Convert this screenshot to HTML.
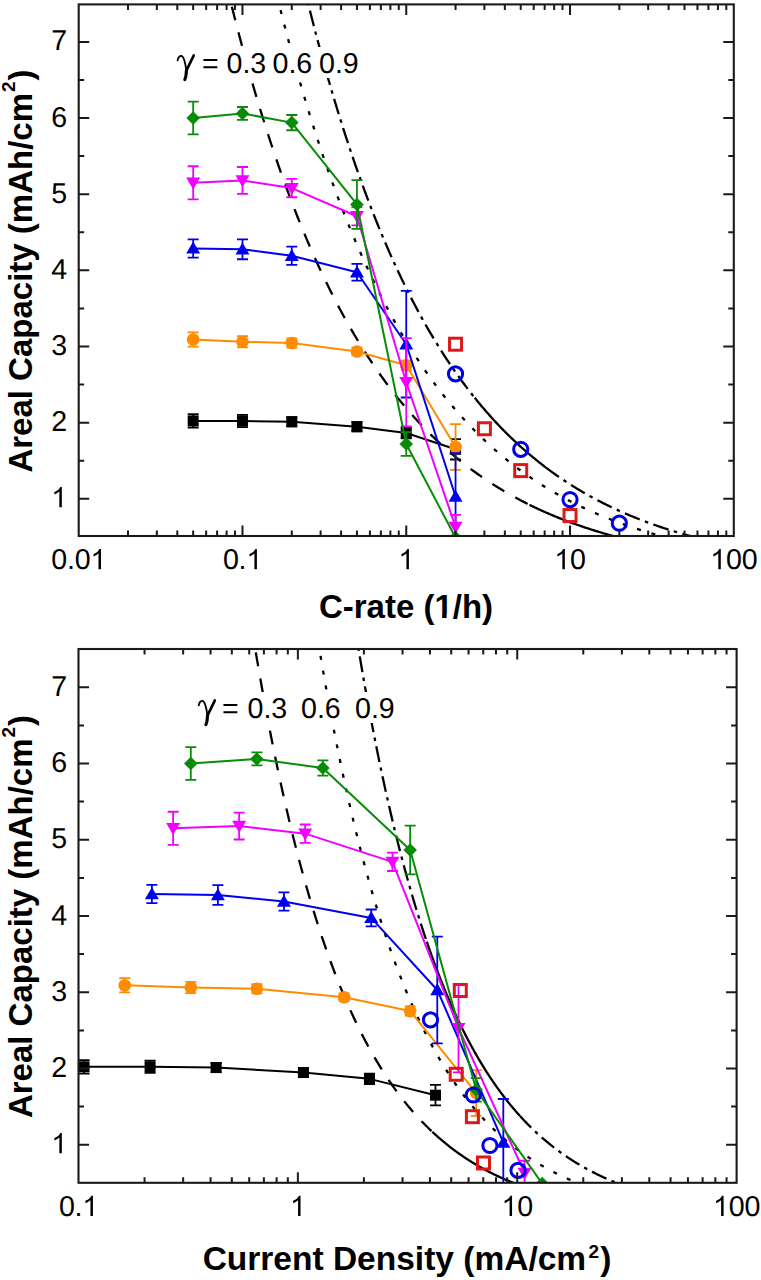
<!DOCTYPE html>
<html><head><meta charset="utf-8"><style>
html,body{margin:0;padding:0;background:#fff;width:761px;height:1280px;overflow:hidden}
svg{display:block}
.tk{font-family:"Liberation Sans",sans-serif;font-size:28.6px;fill:#000;text-rendering:geometricPrecision}
.gm{font-family:"Liberation Serif",serif;font-size:30px;fill:#000}
.tt{font-family:"Liberation Sans",sans-serif;font-size:33px;font-weight:bold;fill:#000}
.sup{font-size:19px}
</style></head><body>
<svg width="761" height="1280" viewBox="0 0 761 1280">
<rect width="761" height="1280" fill="#fff"/>
<defs><clipPath id="c1"><rect x="78.7" y="4.4" width="655.1" height="531.6"/></clipPath>
<clipPath id="c2"><rect x="78.5" y="649" width="658.1" height="533.8"/></clipPath></defs>
<g clip-path="url(#c1)" fill="none" stroke="#000" stroke-width="2.3">
<path d="M225.56 -19.02 L226.91 -13.38 L228.27 -7.79 L229.63 -2.26 L230.99 3.22 L232.34 8.65 L233.7 14.02 L235.06 19.35 L236.41 24.62 L237.77 29.85 L239.13 35.03 L240.48 40.15 L241.84 45.23 L243.2 50.26 L244.56 55.24 L245.91 60.17 L247.27 65.06 L248.63 69.9 L249.98 74.7 L251.34 79.45 L252.7 84.15 L254.06 88.81 L255.41 93.43 L256.77 98 L258.13 102.53 L259.48 107.01 L260.84 111.46 L262.2 115.86 L263.56 120.22 L264.91 124.53 L266.27 128.81 L267.63 133.05 L268.98 137.24 L270.34 141.4 L271.7 145.51 L273.05 149.59 L274.41 153.63 L275.77 157.63 L277.13 161.59 L278.48 165.52 L279.84 169.4 L281.2 173.25 L282.55 177.07 L283.91 180.85 L285.27 184.59 L286.63 188.29 L287.98 191.97 L289.34 195.6 L290.7 199.2 L292.05 202.77 L293.41 206.3 L294.77 209.8 L296.12 213.27 L297.48 216.71 L298.84 220.11 L300.2 223.48 L301.55 226.81 L302.91 230.12 L304.27 233.39 L305.62 236.64 L306.98 239.85 L308.34 243.03 L309.7 246.18 L311.05 249.3 L312.41 252.39 L313.77 255.46 L315.12 258.49 L316.48 261.49 L317.84 264.47 L319.2 267.42 L320.55 270.34 L321.91 273.23 L323.27 276.1 L324.62 278.93 L325.98 281.74 L327.34 284.53 L328.69 287.28 L330.05 290.02 L331.41 292.72 L332.77 295.4 L334.12 298.06 L335.48 300.68 L336.84 303.29 L338.19 305.87 L339.55 308.42 L340.91 310.95 L342.27 313.46 L343.62 315.94 L344.98 318.4 L346.34 320.84 L347.69 323.25 L349.05 325.64 L350.41 328.01 L351.77 330.35 L353.12 332.67 L354.48 334.97 L355.84 337.25 L357.19 339.51 L358.55 341.74 L359.91 343.96 L361.26 346.15 L362.62 348.32 L363.98 350.48 L365.34 352.61 L366.69 354.72 L368.05 356.81 L369.41 358.88 L370.76 360.93 L372.12 362.96 L373.48 364.98 L374.84 366.97 L376.19 368.94 L377.55 370.9 L378.91 372.84 L380.26 374.76 L381.62 376.66 L382.98 378.54 L384.34 380.41 L385.69 382.25 L387.05 384.08 L388.41 385.89 L389.76 387.69 L391.12 389.47 L392.48 391.23 L393.83 392.97 L395.19 394.7 L396.55 396.41 L397.91 398.11 L399.26 399.79 L400.62 401.45 L401.98 403.1 L403.33 404.73 L404.69 406.34 L406.05 407.94 L407.41 409.53 L408.76 411.1 L410.12 412.66 L411.48 414.2 L412.83 415.72 L414.19 417.24 L415.55 418.73 L416.9 420.22 L418.26 421.69 L419.62 423.14 L420.98 424.58 L422.33 426.01 L423.69 427.42 L425.05 428.82 L426.4 430.21 L427.76 431.59 L429.12 432.95 L430.48 434.3 L431.83 435.63 L433.19 436.95 L434.55 438.26 L435.9 439.56 L437.26 440.85 L438.62 442.12 L439.98 443.38 L441.33 444.63 L442.69 445.87 L444.05 447.09 L445.4 448.31 L446.76 449.51 L448.12 450.7 L449.47 451.88 L450.83 453.05 L452.19 454.21 L453.55 455.35 L454.9 456.49 L456.26 457.61 L457.62 458.73 L458.97 459.83 L460.33 460.92 L461.69 462.01 L463.05 463.08 L464.4 464.14 L465.76 465.19 L467.12 466.24 L468.47 467.27 L469.83 468.29 L471.19 469.3 L472.55 470.31 L473.9 471.3 L475.26 472.28 L476.62 473.26 L477.97 474.22 L479.33 475.18 L480.69 476.13 L482.04 477.07 L483.4 477.99 L484.76 478.92 L486.12 479.83 L487.47 480.73 L488.83 481.62 L490.19 482.51 L491.54 483.39 L492.9 484.26 L494.26 485.12 L495.62 485.97 L496.97 486.82 L498.33 487.65 L499.69 488.48 L501.04 489.3 L502.4 490.12 L503.76 490.92 L505.12 491.72 L506.47 492.51 L507.83 493.29 L509.19 494.07 L510.54 494.84 L511.9 495.6 L513.26 496.35 L514.61 497.1 L515.97 497.84 L517.33 498.57 L518.69 499.29 L520.04 500.01 L521.4 500.72 L522.76 501.43 L524.11 502.13 L525.47 502.82 L526.83 503.5 L528.19 504.18 L529.54 504.85" stroke-dasharray="14 12.5"/>
<path d="M529.54 504.85 L530.9 505.52 L532.26 506.18 L533.61 506.83 L534.97 507.48 L536.33 508.12 L537.69 508.75 L539.04 509.38 L540.4 510 L541.76 510.62 L543.12 511.23 L544.47 511.84 L545.83 512.44 L547.19 513.03 L548.55 513.62 L549.9 514.2 L551.26 514.78 L552.62 515.35 L553.98 515.92 L555.33 516.48 L556.69 517.03 L558.05 517.58 L559.41 518.13 L560.76 518.67 L562.12 519.2 L563.48 519.73 L564.84 520.25 L566.19 520.77 L567.55 521.29 L568.91 521.8 L570.27 522.3 L571.62 522.8 L572.98 523.3 L574.34 523.79 L575.7 524.27 L577.05 524.76 L578.41 525.23 L579.77 525.7 L581.13 526.17 L582.48 526.64 L583.84 527.09 L585.2 527.55 L586.56 528 L587.91 528.44 L589.27 528.89 L590.63 529.32 L591.99 529.76 L593.34 530.19 L594.7 530.61 L596.06 531.03 L597.42 531.45 L598.77 531.86 L600.13 532.27 L601.49 532.68 L602.85 533.08 L604.2 533.48 L605.56 533.87 L606.92 534.26 L608.28 534.65 L609.63 535.03 L610.99 535.41 L612.35 535.78 L613.71 536.16 L615.06 536.52 L616.42 536.89 L617.78 537.25 L619.14 537.61 L620.49 537.96 L621.85 538.32 L623.21 538.66 L624.57 539.01 L625.92 539.35 L627.28 539.69 L628.64 540.02 L630 540.35 L631.35 540.68"/>
<path d="M273.42 -19.02 L274.77 -13.4 L276.13 -7.83 L277.48 -2.32 L278.83 3.15 L280.18 8.56 L281.54 13.92 L282.89 19.23 L284.24 24.49 L285.59 29.7 L286.95 34.86 L288.3 39.97 L289.65 45.03 L291.01 50.05 L292.36 55.01 L293.71 59.93 L295.06 64.81 L296.42 69.64 L297.77 74.42 L299.12 79.16 L300.47 83.85 L301.83 88.49 L303.18 93.1 L304.53 97.66 L305.88 102.18 L307.24 106.65 L308.59 111.08 L309.94 115.47 L311.3 119.82 L312.65 124.13 L314 128.39 L315.35 132.62 L316.71 136.81 L318.06 140.95 L319.41 145.06 L320.76 149.13 L322.12 153.16 L323.47 157.15 L324.82 161.1 L326.17 165.02 L327.53 168.9 L328.88 172.74 L330.23 176.55 L331.59 180.32 L332.94 184.05 L334.29 187.75 L335.64 191.42 L337 195.05 L338.35 198.64 L339.7 202.2 L341.05 205.73 L342.41 209.23 L343.76 212.69 L345.11 216.11 L346.46 219.51 L347.82 222.87 L349.17 226.21 L350.52 229.51 L351.87 232.78 L353.23 236.01 L354.58 239.22 L355.93 242.4 L357.29 245.55 L358.64 248.66 L359.99 251.75 L361.34 254.81 L362.7 257.84 L364.05 260.84 L365.4 263.81 L366.75 266.76 L368.11 269.67 L369.46 272.56 L370.81 275.43 L372.16 278.26 L373.52 281.07 L374.87 283.85 L376.22 286.6 L377.58 289.33 L378.93 292.04 L380.28 294.71 L381.63 297.37 L382.99 299.99 L384.34 302.59 L385.69 305.17 L387.04 307.72 L388.4 310.25 L389.75 312.76 L391.1 315.24 L392.45 317.7 L393.81 320.13 L395.16 322.54 L396.51 324.93 L397.87 327.3 L399.22 329.64 L400.57 331.96 L401.92 334.26 L403.28 336.54 L404.63 338.8 L405.98 341.03 L407.33 343.25 L408.69 345.44 L410.04 347.61 L411.39 349.76 L412.74 351.89 L414.1 354 L415.45 356.1 L416.8 358.17 L418.15 360.22 L419.51 362.25 L420.86 364.26 L422.21 366.26 L423.57 368.23 L424.92 370.19 L426.27 372.13 L427.62 374.05 L428.98 375.95 L430.33 377.83 L431.68 379.7 L433.03 381.54 L434.39 383.37 L435.74 385.19 L437.09 386.98 L438.44 388.76 L439.8 390.52 L441.15 392.27 L442.5 394 L443.86 395.71 L445.21 397.41 L446.56 399.09 L447.91 400.75 L449.27 402.4 L450.62 404.03 L451.97 405.65 L453.32 407.25 L454.68 408.84 L456.03 410.41 L457.38 411.97 L458.73 413.51 L460.09 415.04 L461.44 416.55 L462.79 418.05 L464.15 419.54 L465.5 421.01 L466.85 422.46 L468.2 423.91 L469.56 425.34 L470.91 426.75 L472.26 428.15 L473.61 429.54 L474.97 430.92 L476.32 432.28 L477.67 433.63 L479.02 434.97 L480.38 436.3 L481.73 437.61 L483.08 438.91 L484.43 440.19 L485.79 441.47 L487.14 442.73 L488.49 443.98 L489.85 445.22 L491.2 446.45 L492.55 447.67 L493.9 448.87 L495.26 450.07 L496.61 451.25 L497.96 452.42 L499.31 453.58 L500.67 454.73 L502.02 455.86 L503.37 456.99 L504.72 458.11 L506.08 459.21 L507.43 460.31 L508.78 461.39 L510.14 462.47 L511.49 463.53 L512.84 464.59 L514.19 465.63 L515.55 466.67 L516.9 467.69 L518.25 468.71 L519.6 469.71 L520.96 470.71 L522.31 471.69 L523.66 472.67 L525.01 473.64 L526.37 474.6 L527.72 475.55 L529.07 476.49 L530.43 477.42 L531.78 478.34 L533.13 479.26 L534.48 480.16 L535.84 481.06 L537.19 481.95 L538.54 482.83 L539.89 483.7 L541.25 484.56 L542.6 485.42 L543.95 486.27 L545.3 487.11 L546.66 487.94 L548.01 488.76 L549.36 489.58 L550.71 490.38 L552.07 491.18 L553.42 491.98 L554.77 492.76 L556.13 493.54 L557.48 494.31 L558.83 495.07 L560.18 495.83 L561.54 496.58 L562.89 497.32 L564.24 498.05 L565.59 498.78 L566.95 499.5 L568.3 500.22 L569.65 500.92 L571 501.63 L572.36 502.32 L573.71 503.01 L575.06 503.69 L576.42 504.36 L577.77 505.03 L579.12 505.69 L580.47 506.35 L581.83 507 L583.18 507.64 L584.53 508.28 L585.88 508.91 L587.24 509.53 L588.59 510.15 L589.94 510.76 L591.29 511.37 L592.65 511.97 L594 512.57 L595.35 513.16 L596.71 513.74 L598.06 514.32 L599.41 514.9 L600.76 515.47 L602.12 516.03 L603.47 516.59 L604.82 517.14 L606.17 517.69 L607.53 518.23 L608.88 518.76 L610.23 519.3 L611.58 519.82 L612.94 520.34 L614.29 520.86 L615.64 521.37 L616.99 521.88 L618.35 522.38 L619.7 522.88 L621.05 523.37 L622.41 523.86 L623.76 524.34 L625.11 524.82 L626.46 525.3 L627.82 525.77 L629.17 526.23 L630.52 526.69 L631.87 527.15 L633.23 527.6 L634.58 528.05 L635.93 528.5 L637.28 528.93 L638.64 529.37 L639.99 529.8 L641.34 530.23 L642.7 530.65 L644.05 531.07 L645.4 531.49 L646.75 531.9 L648.11 532.31 L649.46 532.71 L650.81 533.11 L652.16 533.5 L653.52 533.9 L654.87 534.29 L656.22 534.67 L657.57 535.05 L658.93 535.43 L660.28 535.8 L661.63 536.17 L662.99 536.54 L664.34 536.9 L665.69 537.26 L667.04 537.62 L668.4 537.97 L669.75 538.32 L671.1 538.67 L672.45 539.01 L673.81 539.35 L675.16 539.69 L676.51 540.02 L677.86 540.36 L679.22 540.68" stroke-dasharray="4 11"/>
<path d="M302.64 -19.02 L303.99 -13.39 L305.35 -7.81 L306.7 -2.28 L308.06 3.19 L309.41 8.61 L310.77 13.98 L312.12 19.3 L313.48 24.57 L314.83 29.79 L316.19 34.96 L317.54 40.08 L318.9 45.15 L320.25 50.17 L321.61 55.15 L322.97 60.08 L324.32 64.96 L325.68 69.8 L327.03 74.58 L328.39 79.33 L329.74 84.03 L331.1 88.68 L332.45 93.29 L333.81 97.86 L335.16 102.39 L336.52 106.87 L337.87 111.3 L339.23 115.7 L340.58 120.06 L341.94 124.37 L343.29 128.64 L344.65 132.87 L346.01 137.07 L347.36 141.22 L348.72 145.33 L350.07 149.4 L351.43 153.44 L352.78 157.44 L354.14 161.39 L355.49 165.32 L356.85 169.2 L358.2 173.05 L359.56 176.86 L360.91 180.63 L362.27 184.37 L363.62 188.07 L364.98 191.74 L366.33 195.38 L367.69 198.98 L369.05 202.54 L370.4 206.07 L371.76 209.57 L373.11 213.03 L374.47 216.47 L375.82 219.87 L377.18 223.23 L378.53 226.57 L379.89 229.87 L381.24 233.14 L382.6 236.38 L383.95 239.59 L385.31 242.77 L386.66 245.92 L388.02 249.04 L389.37 252.13 L390.73 255.19 L392.08 258.23 L393.44 261.23 L394.8 264.2 L396.15 267.15 L397.51 270.07 L398.86 272.96 L400.22 275.82 L401.57 278.66 L402.93 281.47 L404.28 284.25 L405.64 287.01 L406.99 289.74 L408.35 292.44 L409.7 295.12 L411.06 297.78 L412.41 300.4 L413.77 303.01 L415.12 305.59 L416.48 308.14 L417.84 310.67 L419.19 313.18 L420.55 315.66 L421.9 318.12 L423.26 320.55 L424.61 322.96 L425.97 325.35 L427.32 327.72 L428.68 330.06 L430.03 332.39 L431.39 334.69 L432.74 336.96 L434.1 339.22 L435.45 341.46 L436.81 343.67 L438.16 345.86 L439.52 348.04 L440.88 350.19 L442.23 352.32 L443.59 354.43 L444.94 356.52 L446.3 358.59 L447.65 360.64 L449.01 362.67 L450.36 364.69 L451.72 366.68 L453.07 368.66 L454.43 370.61 L455.78 372.55 L457.14 374.47 L458.49 376.37 L459.85 378.25 L461.2 380.12 L462.56 381.97 L463.92 383.8 L465.27 385.61 L466.63 387.4 L467.98 389.18 L469.34 390.94 L470.69 392.69 L472.05 394.42 L473.4 396.13 L474.76 397.82" stroke-dasharray="16 5.5 3.5 5.5"/>
<path d="M474.76 397.82 L476.13 399.52 L477.5 401.2 L478.87 402.87 L480.23 404.51 L481.6 406.15 L482.97 407.76 L484.34 409.37 L485.71 410.95 L487.08 412.52 L488.45 414.08 L489.82 415.62 L491.19 417.15 L492.56 418.66 L493.93 420.16 L495.3 421.64 L496.67 423.11 L498.04 424.56 L499.41 426 L500.78 427.43 L502.14 428.84 L503.51 430.24 L504.88 431.63 L506.25 433 L507.62 434.36 L508.99 435.71 L510.36 437.04 L511.73 438.36 L513.1 439.67 L514.47 440.97 L515.84 442.25 L517.21 443.52 L518.58 444.78 L519.95 446.03 L521.32 447.26 L522.69 448.49 L524.05 449.7 L525.42 450.9 L526.79 452.09 L528.16 453.26 L529.53 454.43 L530.9 455.58 L532.27 456.73 L533.64 457.86 L535.01 458.98 L536.38 460.09 L537.75 461.19 L539.12 462.28 L540.49 463.36 L541.86 464.43 L543.23 465.49 L544.6 466.54 L545.96 467.58"/>
<path d="M545.96 467.58 L547.32 468.6 L548.67 469.6 L550.03 470.6 L551.38 471.59 L552.73 472.57 L554.09 473.54 L555.44 474.5 L556.8 475.45 L558.15 476.39 L559.5 477.33 L560.86 478.25 L562.21 479.17 L563.57 480.07 L564.92 480.97 L566.27 481.86 L567.63 482.74 L568.98 483.62 L570.33 484.48 L571.69 485.34 L573.04 486.19 L574.4 487.03 L575.75 487.86 L577.1 488.69 L578.46 489.5 L579.81 490.31 L581.17 491.12 L582.52 491.91 L583.87 492.7 L585.23 493.48 L586.58 494.25 L587.94 495.01 L589.29 495.77 L590.64 496.52 L592 497.26 L593.35 498 L594.7 498.73 L596.06 499.45 L597.41 500.16 L598.77 500.87 L600.12 501.57 L601.47 502.27 L602.83 502.96 L604.18 503.64 L605.54 504.31 L606.89 504.98 L608.24 505.65 L609.6 506.3 L610.95 506.95 L612.31 507.6 L613.66 508.24 L615.01 508.87 L616.37 509.49 L617.72 510.11 L619.08 510.73 L620.43 511.34 L621.78 511.94 L623.14 512.54 L624.49 513.13 L625.84 513.71 L627.2 514.29 L628.55 514.87 L629.91 515.44 L631.26 516 L632.61 516.56 L633.97 517.11 L635.32 517.66 L636.68 518.2 L638.03 518.74 L639.38 519.27 L640.74 519.8 L642.09 520.32 L643.45 520.84 L644.8 521.35 L646.15 521.86 L647.51 522.36 L648.86 522.86 L650.21 523.35 L651.57 523.84 L652.92 524.33 L654.28 524.81 L655.63 525.28 L656.98 525.75 L658.34 526.22 L659.69 526.68 L661.05 527.14 L662.4 527.59 L663.75 528.04 L665.11 528.48 L666.46 528.92 L667.82 529.36 L669.17 529.79 L670.52 530.22 L671.88 530.64 L673.23 531.06 L674.58 531.48 L675.94 531.89 L677.29 532.3 L678.65 532.7 L680 533.1 L681.35 533.5 L682.71 533.89 L684.06 534.28 L685.42 534.66 L686.77 535.05 L688.12 535.42 L689.48 535.8 L690.83 536.17 L692.19 536.54 L693.54 536.9 L694.89 537.26 L696.25 537.62 L697.6 537.97 L698.95 538.32 L700.31 538.67 L701.66 539.01 L703.02 539.35 L704.37 539.69 L705.72 540.02 L707.08 540.35 L708.43 540.68" stroke-dasharray="16 5.5 3.5 5.5"/>
</g>
<rect x="172" y="47" width="190" height="31" fill="#fff"/>
<g transform="translate(0 0)" fill="none" stroke="#000" stroke-linecap="round"><path d="M177.6 60.4C178.3 56.6 180.4 55.3 182.1 56.2C184.1 57.5 185.4 63.5 186.4 70.3" stroke-width="1.9"/><path d="M193.7 55.5L186.5 70.3" stroke-width="2.7"/><path d="M186.4 70.5C186.3 74 185.8 77.5 184.8 79.6" stroke-width="3.1"/></g>
<text x="202" y="73" class="tk">=</text>
<text x="226.5" y="73" class="tk">0.3</text>
<text x="272.5" y="73" class="tk">0.6</text>
<text x="319" y="73" class="tk">0.9</text>
<g clip-path="url(#c1)">
<polyline points="193.17,420.97 242.47,420.97 291.78,421.74 356.95,426.69 406.25,433.01 455.55,449.3" fill="none" stroke="#000000" stroke-width="2" stroke-linejoin="round"/>
<path d="M193.17 414.27V427.68M187.67 414.27h11M187.67 427.68h11M242.47 414.88V427.07M236.97 414.88h11M236.97 427.07h11M291.78 417.17V426.31M286.28 417.17h11M286.28 426.31h11M356.95 422.12V431.25M351.45 422.12h11M351.45 431.25h11M406.25 427.68V438.34M400.75 427.68h11M400.75 438.34h11M455.55 439.1V459.51M450.05 439.1h11M450.05 459.51h11" stroke="#000000" stroke-width="1.8" fill="none"/>
<rect x="187.67" y="415.47" width="11" height="11" fill="#000000"/>
<rect x="236.97" y="415.47" width="11" height="11" fill="#000000"/>
<rect x="286.28" y="416.24" width="11" height="11" fill="#000000"/>
<rect x="351.45" y="421.19" width="11" height="11" fill="#000000"/>
<rect x="400.75" y="427.51" width="11" height="11" fill="#000000"/>
<rect x="450.05" y="443.8" width="11" height="11" fill="#000000"/>
</g>
<g clip-path="url(#c1)">
<polyline points="193.17,339.49 242.47,341.78 291.78,343.07 356.95,351.53 406.25,365.31 455.55,447.02" fill="none" stroke="#ff8c00" stroke-width="2" stroke-linejoin="round"/>
<path d="M193.17 332.41V346.58M187.67 332.41h11M187.67 346.58h11M242.47 336.22V347.34M236.97 336.22h11M236.97 347.34h11M291.78 338.5V347.64M286.28 338.5h11M286.28 347.64h11M356.95 347.72V355.33M351.45 347.72h11M351.45 355.33h11M406.25 360.74V369.88M400.75 360.74h11M400.75 369.88h11M455.55 424.17V469.86M450.05 424.17h11M450.05 469.86h11" stroke="#ff8c00" stroke-width="1.8" fill="none"/>
<circle cx="193.17" cy="339.49" r="6.3" fill="#ff8c00"/>
<circle cx="242.47" cy="341.78" r="6.3" fill="#ff8c00"/>
<circle cx="291.78" cy="343.07" r="6.3" fill="#ff8c00"/>
<circle cx="356.95" cy="351.53" r="6.3" fill="#ff8c00"/>
<circle cx="406.25" cy="365.31" r="6.3" fill="#ff8c00"/>
<circle cx="455.55" cy="447.02" r="6.3" fill="#ff8c00"/>
</g>
<g clip-path="url(#c1)">
<polyline points="193.17,248.42 242.47,249.33 291.78,255.81 356.95,272.25 406.25,344.22 455.55,496.52" fill="none" stroke="#0000f0" stroke-width="2" stroke-linejoin="round"/>
<path d="M193.17 239.28V257.56M187.67 239.28h11M187.67 257.56h11M242.47 239.43V259.23M236.97 239.43h11M236.97 259.23h11M291.78 246.67V264.94M286.28 246.67h11M286.28 264.94h11M356.95 263.88V280.63M351.45 263.88h11M351.45 280.63h11M406.25 290.91V397.52M400.75 290.91h11M400.75 397.52h11M455.55 453.11V539.92M450.05 453.11h11M450.05 539.92h11" stroke="#0000f0" stroke-width="1.8" fill="none"/>
<path d="M193.17 241.62l7 12h-14z" fill="#0000f0"/>
<path d="M242.47 242.53l7 12h-14z" fill="#0000f0"/>
<path d="M291.78 249.01l7 12h-14z" fill="#0000f0"/>
<path d="M356.95 265.45l7 12h-14z" fill="#0000f0"/>
<path d="M406.25 337.42l7 12h-14z" fill="#0000f0"/>
<path d="M455.55 489.72l7 12h-14z" fill="#0000f0"/>
</g>
<g clip-path="url(#c1)">
<polyline points="193.17,182.78 242.47,180.49 291.78,188.11 356.95,216.28 406.25,382.29 455.55,526.98" fill="none" stroke="#f000ff" stroke-width="2" stroke-linejoin="round"/>
<path d="M193.17 166.25V199.3M187.67 166.25h11M187.67 199.3h11M242.47 167.01V193.97M236.97 167.01h11M236.97 193.97h11M291.78 178.97V197.25M286.28 178.97h11M286.28 197.25h11M356.95 207.15V225.42M351.45 207.15h11M351.45 225.42h11M406.25 338.12V426.46M400.75 338.12h11M400.75 426.46h11M455.55 514.79V539.16M450.05 514.79h11M450.05 539.16h11" stroke="#f000ff" stroke-width="1.8" fill="none"/>
<path d="M193.17 189.58l7 -12h-14z" fill="#f000ff"/>
<path d="M242.47 187.29l7 -12h-14z" fill="#f000ff"/>
<path d="M291.78 194.91l7 -12h-14z" fill="#f000ff"/>
<path d="M356.95 223.08l7 -12h-14z" fill="#f000ff"/>
<path d="M406.25 389.09l7 -12h-14z" fill="#f000ff"/>
<path d="M455.55 533.78l7 -12h-14z" fill="#f000ff"/>
</g>
<g clip-path="url(#c1)">
<polyline points="193.17,118.05 242.47,113.48 291.78,122.62 356.95,204.48 406.25,443.97 455.55,537.64" fill="none" stroke="#078c07" stroke-width="2" stroke-linejoin="round"/>
<path d="M193.17 101.68V134.42M187.67 101.68h11M187.67 134.42h11M242.47 107.01V119.95M236.97 107.01h11M236.97 119.95h11M291.78 115V130.23M286.28 115h11M286.28 130.23h11M356.95 180.11V228.85M351.45 180.11h11M351.45 228.85h11M406.25 432.17V455.78M400.75 432.17h11M400.75 455.78h11" stroke="#078c07" stroke-width="1.8" fill="none"/>
<path d="M193.17 111.25l6.8 6.8l-6.8 6.8l-6.8 -6.8z" fill="#078c07"/>
<path d="M242.47 106.68l6.8 6.8l-6.8 6.8l-6.8 -6.8z" fill="#078c07"/>
<path d="M291.78 115.82l6.8 6.8l-6.8 6.8l-6.8 -6.8z" fill="#078c07"/>
<path d="M356.95 197.68l6.8 6.8l-6.8 6.8l-6.8 -6.8z" fill="#078c07"/>
<path d="M406.25 437.17l6.8 6.8l-6.8 6.8l-6.8 -6.8z" fill="#078c07"/>
<path d="M455.55 530.84l6.8 6.8l-6.8 6.8l-6.8 -6.8z" fill="#078c07"/>
</g>
<rect x="449.55" y="338.22" width="12" height="12" fill="none" stroke="#dc1818" stroke-width="3"/>
<rect x="478.39" y="422.74" width="12" height="12" fill="none" stroke="#dc1818" stroke-width="3"/>
<rect x="514.72" y="464.62" width="12" height="12" fill="none" stroke="#dc1818" stroke-width="3"/>
<rect x="564.02" y="509.55" width="12" height="12" fill="none" stroke="#dc1818" stroke-width="3"/>
<circle cx="455.55" cy="373.91" r="7.1" fill="none" stroke="#0000e6" stroke-width="3"/>
<circle cx="520.72" cy="449.3" r="7.1" fill="none" stroke="#0000e6" stroke-width="3"/>
<circle cx="570.02" cy="499.56" r="7.1" fill="none" stroke="#0000e6" stroke-width="3"/>
<circle cx="619.33" cy="523.17" r="7.1" fill="none" stroke="#0000e6" stroke-width="3"/>
<path d="M78.7 498.8h10.5M733.8 498.8h-10.5M78.7 460.73h5.5M733.8 460.73h-5.5M78.7 422.65h10.5M733.8 422.65h-10.5M78.7 384.57h5.5M733.8 384.57h-5.5M78.7 346.5h10.5M733.8 346.5h-10.5M78.7 308.43h5.5M733.8 308.43h-5.5M78.7 270.35h10.5M733.8 270.35h-10.5M78.7 232.28h5.5M733.8 232.28h-5.5M78.7 194.2h10.5M733.8 194.2h-10.5M78.7 156.12h5.5M733.8 156.12h-5.5M78.7 118.05h10.5M733.8 118.05h-10.5M78.7 79.97h5.5M733.8 79.97h-5.5M78.7 41.9h10.5M733.8 41.9h-10.5M128 536v-5.5M128 4.4v5.5M156.84 536v-5.5M156.84 4.4v5.5M177.3 536v-5.5M177.3 4.4v5.5M193.17 536v-5.5M193.17 4.4v5.5M206.14 536v-5.5M206.14 4.4v5.5M217.11 536v-5.5M217.11 4.4v5.5M226.6 536v-5.5M226.6 4.4v5.5M234.98 536v-5.5M234.98 4.4v5.5M242.47 536v-10.5M242.47 4.4v10.5M291.78 536v-5.5M291.78 4.4v5.5M320.62 536v-5.5M320.62 4.4v5.5M341.08 536v-5.5M341.08 4.4v5.5M356.95 536v-5.5M356.95 4.4v5.5M369.92 536v-5.5M369.92 4.4v5.5M380.88 536v-5.5M380.88 4.4v5.5M390.38 536v-5.5M390.38 4.4v5.5M398.76 536v-5.5M398.76 4.4v5.5M406.25 536v-10.5M406.25 4.4v10.5M455.55 536v-5.5M455.55 4.4v5.5M484.39 536v-5.5M484.39 4.4v5.5M504.85 536v-5.5M504.85 4.4v5.5M520.72 536v-5.5M520.72 4.4v5.5M533.69 536v-5.5M533.69 4.4v5.5M544.66 536v-5.5M544.66 4.4v5.5M554.15 536v-5.5M554.15 4.4v5.5M562.53 536v-5.5M562.53 4.4v5.5M570.02 536v-10.5M570.02 4.4v10.5M619.33 536v-5.5M619.33 4.4v5.5M648.17 536v-5.5M648.17 4.4v5.5M668.63 536v-5.5M668.63 4.4v5.5M684.5 536v-5.5M684.5 4.4v5.5M697.47 536v-5.5M697.47 4.4v5.5M708.43 536v-5.5M708.43 4.4v5.5M717.93 536v-5.5M717.93 4.4v5.5M726.31 536v-5.5M726.31 4.4v5.5" stroke="#1a1a1a" stroke-width="2" fill="none"/>
<rect x="78.7" y="4.4" width="655.1" height="531.6" fill="none" stroke="#1a1a1a" stroke-width="2.1"/>
<path d="M61.83 507.3 L59.35 507.3 L59.35 491.51 Q56.96 493.48 54.38 494.49 L54.38 492.1 Q58.93 490.38 60.22 487.03 L61.83 487.03 Z" fill="#000"/>
<text x="51.32" y="431.15" class="tk">2</text>
<text x="51.32" y="355" class="tk">3</text>
<text x="51.32" y="278.85" class="tk">4</text>
<text x="51.32" y="202.7" class="tk">5</text>
<text x="51.32" y="126.55" class="tk">6</text>
<text x="51.32" y="50.4" class="tk">7</text>
<text x="51.26" y="569.3" class="tk">0</text>
<text x="66.94" y="569.3" class="tk">.</text>
<text x="74.78" y="569.3" class="tk">0</text>
<path d="M100.97 569.3 L98.49 569.3 L98.49 553.51 Q96.1 555.48 93.52 556.49 L93.52 554.1 Q98.07 552.38 99.35 549.03 L100.97 549.03 Z" fill="#000"/>
<text x="222.88" y="569.3" class="tk">0</text>
<text x="238.56" y="569.3" class="tk">.</text>
<path d="M256.9 569.3 L254.42 569.3 L254.42 553.51 Q252.03 555.48 249.45 556.49 L249.45 554.1 Q254.01 552.38 255.29 549.03 L256.9 549.03 Z" fill="#000"/>
<path d="M408.92 569.3 L406.44 569.3 L406.44 553.51 Q404.05 555.48 401.47 556.49 L401.47 554.1 Q406.02 552.38 407.3 549.03 L408.92 549.03 Z" fill="#000"/>
<path d="M564.85 569.3 L562.37 569.3 L562.37 553.51 Q559.99 555.48 557.4 556.49 L557.4 554.1 Q561.96 552.38 563.24 549.03 L564.85 549.03 Z" fill="#000"/>
<text x="570.02" y="569.3" class="tk">0</text>
<path d="M720.79 569.3 L718.31 569.3 L718.31 553.51 Q715.92 555.48 713.34 556.49 L713.34 554.1 Q717.9 552.38 719.18 549.03 L720.79 549.03 Z" fill="#000"/>
<text x="725.96" y="569.3" class="tk">0</text>
<text x="741.64" y="569.3" class="tk">0</text>
<text x="406" y="617.5" class="tt" text-anchor="middle">C-rate (1/h)</text>
<rect x="435.74" y="613.94" width="6.37" height="5.06" fill="#fff"/>
<rect x="446.66" y="613.94" width="5.61" height="5.06" fill="#fff"/>
<text transform="translate(31.8 271) rotate(-90)" class="tt" text-anchor="middle">Areal Capacity (mAh/cm<tspan dy="-16.5" dx="1" class="sup">2</tspan><tspan dy="16.5" dx="1">)</tspan></text>
<g clip-path="url(#c2)" fill="none" stroke="#000" stroke-width="2.3">
<path d="M251.54 626.25 L252.44 631.89 L253.35 637.48 L254.26 643.02 L255.17 648.5 L256.08 653.94 L256.98 659.32 L257.89 664.65 L258.8 669.93 L259.71 675.16 L260.62 680.34 L261.53 685.47 L262.43 690.55 L263.34 695.58 L264.25 700.57 L265.16 705.5 L266.07 710.4 L266.98 715.24 L267.88 720.04 L268.79 724.79 L269.7 729.5 L270.61 734.17 L271.52 738.79 L272.43 743.36 L273.33 747.89 L274.24 752.38 L275.15 756.83 L276.06 761.23 L276.97 765.6 L277.88 769.92 L278.78 774.2 L279.69 778.44 L280.6 782.64 L281.51 786.8 L282.42 790.92 L283.33 795 L284.23 799.04 L285.14 803.04 L286.05 807.01 L286.96 810.94 L287.87 814.83 L288.78 818.68 L289.68 822.5 L290.59 826.28 L291.5 830.03 L292.41 833.74 L293.32 837.41 L294.23 841.05 L295.13 844.66 L296.04 848.23 L296.95 851.77 L297.86 855.27 L298.77 858.74 L299.68 862.18 L300.58 865.58 L301.49 868.95 L302.4 872.3 L303.31 875.6 L304.22 878.88 L305.13 882.13 L306.03 885.34 L306.94 888.53 L307.85 891.68 L308.76 894.81 L309.67 897.9 L310.58 900.97 L311.48 904.01 L312.39 907.01 L313.3 909.99 L314.21 912.94 L315.12 915.87 L316.03 918.76 L316.93 921.63 L317.84 924.47 L318.75 927.29 L319.66 930.07 L320.57 932.83 L321.48 935.57 L322.38 938.28 L323.29 940.96 L324.2 943.62 L325.11 946.25 L326.02 948.85 L326.93 951.44 L327.83 953.99 L328.74 956.53 L329.65 959.04 L330.56 961.52 L331.47 963.99 L332.38 966.42 L333.28 968.84 L334.19 971.23 L335.1 973.6 L336.01 975.95 L336.92 978.28 L337.83 980.58 L338.73 982.86 L339.64 985.12 L340.55 987.36 L341.46 989.58 L342.37 991.77 L343.28 993.95 L344.18 996.1 L345.09 998.23 L346 1000.35 L346.91 1002.44 L347.82 1004.52 L348.73 1006.57 L349.63 1008.61 L350.54 1010.62 L351.45 1012.62 L352.36 1014.59 L353.27 1016.55 L354.18 1018.49 L355.08 1020.41 L355.99 1022.32 L356.9 1024.2 L357.81 1026.07 L358.72 1027.92 L359.63 1029.75 L360.53 1031.57 L361.44 1033.36 L362.35 1035.14 L363.26 1036.91 L364.17 1038.66 L365.08 1040.39 L365.98 1042.1 L366.89 1043.8 L367.8 1045.48 L368.71 1047.14 L369.62 1048.79 L370.53 1050.43 L371.43 1052.05 L372.34 1053.65 L373.25 1055.24 L374.16 1056.81 L375.07 1058.37 L375.98 1059.91 L376.88 1061.44 L377.79 1062.95 L378.7 1064.45 L379.61 1065.94 L380.52 1067.41 L381.43 1068.87 L382.33 1070.31 L383.24 1071.74 L384.15 1073.16 L385.06 1074.56 L385.97 1075.95 L386.87 1077.33 L387.78 1078.69 L388.69 1080.04 L389.6 1081.38 L390.51 1082.7 L391.42 1084.01 L392.32 1085.31 L393.23 1086.6 L394.14 1087.88 L395.05 1089.14 L395.96 1090.39 L396.87 1091.63 L397.77 1092.86 L398.68 1094.07 L399.59 1095.28 L400.5 1096.47 L401.41 1097.65 L402.32 1098.82 L403.22 1099.98 L404.13 1101.13 L405.04 1102.27 L405.95 1103.4 L406.86 1104.51 L407.77 1105.62 L408.67 1106.71 L409.58 1107.8 L410.49 1108.87 L411.4 1109.93 L412.31 1110.99 L413.22 1112.03 L414.12 1113.07 L415.03 1114.09 L415.94 1115.1 L416.85 1116.11 L417.76 1117.1 L418.67 1118.09 L419.57 1119.07 L420.48 1120.03 L421.39 1120.99 L422.3 1121.94 L423.21 1122.88 L424.12 1123.81 L425.02 1124.73 L425.93 1125.65 L426.84 1126.55 L427.75 1127.45 L428.66 1128.34 L429.57 1129.22 L430.47 1130.09 L431.38 1130.95 L432.29 1131.8" stroke-dasharray="14 12.5"/>
<path d="M432.29 1131.8 L433.2 1132.65 L434.11 1133.49 L435.02 1134.32 L435.93 1135.15 L436.84 1135.96 L437.75 1136.77 L438.66 1137.57 L439.57 1138.37 L440.48 1139.15 L441.39 1139.93 L442.3 1140.7 L443.21 1141.47 L444.12 1142.22 L445.03 1142.97 L445.94 1143.71 L446.85 1144.45 L447.76 1145.17 L448.67 1145.9 L449.58 1146.61 L450.49 1147.32 L451.4 1148.02 L452.31 1148.71 L453.22 1149.4 L454.13 1150.08 L455.04 1150.75 L455.95 1151.42 L456.86 1152.08 L457.77 1152.74 L458.68 1153.39 L459.6 1154.03 L460.51 1154.67 L461.42 1155.3 L462.33 1155.92 L463.24 1156.54 L464.15 1157.15 L465.06 1157.76 L465.97 1158.36 L466.88 1158.96 L467.79 1159.55 L468.7 1160.13 L469.61 1160.71 L470.52 1161.28 L471.43 1161.85 L472.34 1162.41 L473.25 1162.97 L474.16 1163.52 L475.07 1164.07 L475.98 1164.61 L476.89 1165.15 L477.8 1165.68 L478.71 1166.2 L479.62 1166.72 L480.53 1167.24 L481.44 1167.75 L482.35 1168.26 L483.26 1168.76 L484.17 1169.26 L485.08 1169.75 L485.99 1170.24 L486.9 1170.72 L487.81 1171.2 L488.72 1171.67 L489.63 1172.14 L490.54 1172.6 L491.45 1173.06 L492.36 1173.52 L493.27 1173.97 L494.18 1174.42 L495.09 1174.86 L496 1175.3 L496.91 1175.73 L497.82 1176.16 L498.73 1176.59 L499.64 1177.01 L500.55 1177.43 L501.46 1177.85 L502.37 1178.26 L503.28 1178.66 L504.19 1179.06 L505.1 1179.46 L506.01 1179.86 L506.92 1180.25 L507.83 1180.64 L508.74 1181.02 L509.65 1181.4 L510.56 1181.78 L511.47 1182.15 L512.38 1182.52 L513.29 1182.89 L514.2 1183.25 L515.11 1183.61 L516.02 1183.96 L516.93 1184.31 L517.84 1184.66 L518.75 1185.01 L519.66 1185.35 L520.57 1185.69 L521.48 1186.03 L522.39 1186.36 L523.3 1186.69"/>
<path d="M315.65 626.25 L316.55 631.88 L317.46 637.45 L318.36 642.98 L319.27 648.45 L320.18 653.87 L321.08 659.23 L321.99 664.55 L322.89 669.81 L323.8 675.03 L324.71 680.2 L325.61 685.32 L326.52 690.39 L327.42 695.41 L328.33 700.38 L329.23 705.31 L330.14 710.19 L331.05 715.02 L331.95 719.81 L332.86 724.55 L333.76 729.25 L334.67 733.91 L335.58 738.52 L336.48 743.08 L337.39 747.6 L338.29 752.08 L339.2 756.52 L340.11 760.92 L341.01 765.27 L341.92 769.59 L342.82 773.86 L343.73 778.09 L344.64 782.28 L345.54 786.43 L346.45 790.54 L347.35 794.62 L348.26 798.65 L349.16 802.65 L350.07 806.61 L350.98 810.53 L351.88 814.42 L352.79 818.26 L353.69 822.08 L354.6 825.85 L355.51 829.59 L356.41 833.29 L357.32 836.96 L358.22 840.6 L359.13 844.2 L360.04 847.76 L360.94 851.3 L361.85 854.79 L362.75 858.26 L363.66 861.69 L364.56 865.09 L365.47 868.46 L366.38 871.8 L367.28 875.1 L368.19 878.38 L369.09 881.62 L370 884.83 L370.91 888.01 L371.81 891.16 L372.72 894.28 L373.62 897.38 L374.53 900.44 L375.44 903.47 L376.34 906.48 L377.25 909.45 L378.15 912.4 L379.06 915.32 L379.97 918.22 L380.87 921.08 L381.78 923.92 L382.68 926.73 L383.59 929.52 L384.49 932.28 L385.4 935.01 L386.31 937.71 L387.21 940.39 L388.12 943.05 L389.02 945.68 L389.93 948.29 L390.84 950.87 L391.74 953.42 L392.65 955.96 L393.55 958.46 L394.46 960.95 L395.37 963.41 L396.27 965.85 L397.18 968.26 L398.08 970.65 L398.99 973.02 L399.89 975.37 L400.8 977.69 L401.71 980 L402.61 982.28 L403.52 984.54 L404.42 986.78 L405.33 988.99 L406.24 991.19 L407.14 993.36 L408.05 995.52 L408.95 997.65 L409.86 999.76 L410.77 1001.86 L411.67 1003.93 L412.58 1005.99 L413.48 1008.02 L414.39 1010.04 L415.3 1012.03 L416.2 1014.01 L417.11 1015.97 L418.01 1017.91 L418.92 1019.83 L419.82 1021.74 L420.73 1023.62 L421.64 1025.49 L422.54 1027.34 L423.45 1029.17 L424.35 1030.99 L425.26 1032.79 L426.17 1034.57 L427.07 1036.33 L427.98 1038.08 L428.88 1039.81 L429.79 1041.52 L430.7 1043.22 L431.6 1044.91 L432.51 1046.57 L433.41 1048.22 L434.32 1049.86 L435.22 1051.48 L436.13 1053.08 L437.04 1054.67 L437.94 1056.25 L438.85 1057.8 L439.75 1059.35 L440.66 1060.88 L441.57 1062.39 L442.47 1063.9 L443.38 1065.38 L444.28 1066.85 L445.19 1068.31 L446.1 1069.76 L447 1071.19 L447.91 1072.61 L448.81 1074.01 L449.72 1075.4 L450.63 1076.78 L451.53 1078.15 L452.44 1079.5 L453.34 1080.84 L454.25 1082.16 L455.15 1083.48 L456.06 1084.78 L456.97 1086.07 L457.87 1087.34 L458.78 1088.61 L459.68 1089.86 L460.59 1091.1 L461.5 1092.33 L462.4 1093.55 L463.31 1094.76 L464.21 1095.95 L465.12 1097.13 L466.03 1098.31 L466.93 1099.47 L467.84 1100.62 L468.74 1101.76 L469.65 1102.89 L470.55 1104 L471.46 1105.11 L472.37 1106.21 L473.27 1107.29 L474.18 1108.37 L475.08 1109.44 L475.99 1110.49 L476.9 1111.54 L477.8 1112.57 L478.71 1113.6 L479.61 1114.62 L480.52 1115.62 L481.43 1116.62 L482.33 1117.61 L483.24 1118.59 L484.14 1119.56 L485.05 1120.52 L485.96 1121.47 L486.86 1122.41 L487.77 1123.34 L488.67 1124.27 L489.58 1125.18 L490.48 1126.09 L491.39 1126.99 L492.3 1127.88 L493.2 1128.76 L494.11 1129.63 L495.01 1130.5 L495.92 1131.35 L496.83 1132.2 L497.73 1133.04 L498.64 1133.87 L499.54 1134.7 L500.45 1135.51 L501.36 1136.32 L502.26 1137.12 L503.17 1137.92 L504.07 1138.7 L504.98 1139.48 L505.88 1140.25 L506.79 1141.02 L507.7 1141.78 L508.6 1142.53 L509.51 1143.27 L510.41 1144 L511.32 1144.73 L512.23 1145.45 L513.13 1146.17 L514.04 1146.88 L514.94 1147.58 L515.85 1148.27 L516.76 1148.96 L517.66 1149.64 L518.57 1150.32 L519.47 1150.99 L520.38 1151.65 L521.29 1152.31 L522.19 1152.96 L523.1 1153.6 L524 1154.24 L524.91 1154.87 L525.81 1155.5 L526.72 1156.12 L527.63 1156.73 L528.53 1157.34 L529.44 1157.94 L530.34 1158.54 L531.25 1159.13 L532.16 1159.71 L533.06 1160.29 L533.97 1160.87 L534.87 1161.44 L535.78 1162 L536.69 1162.56 L537.59 1163.11 L538.5 1163.66 L539.4 1164.2 L540.31 1164.74 L541.21 1165.27 L542.12 1165.8 L543.03 1166.32 L543.93 1166.84 L544.84 1167.35 L545.74 1167.86 L546.65 1168.36 L547.56 1168.86 L548.46 1169.36 L549.37 1169.84 L550.27 1170.33 L551.18 1170.81 L552.09 1171.28 L552.99 1171.75 L553.9 1172.22 L554.8 1172.68 L555.71 1173.14 L556.62 1173.59 L557.52 1174.04 L558.43 1174.48 L559.33 1174.92 L560.24 1175.36 L561.14 1175.79 L562.05 1176.22 L562.96 1176.64 L563.86 1177.06 L564.77 1177.48 L565.67 1177.89 L566.58 1178.3 L567.49 1178.7 L568.39 1179.1 L569.3 1179.5 L570.2 1179.89 L571.11 1180.28 L572.02 1180.67 L572.92 1181.05 L573.83 1181.43 L574.73 1181.8 L575.64 1182.17 L576.54 1182.54 L577.45 1182.9 L578.36 1183.26 L579.26 1183.62 L580.17 1183.98 L581.07 1184.33 L581.98 1184.67 L582.89 1185.02 L583.79 1185.36 L584.7 1185.69 L585.6 1186.03 L586.51 1186.36 L587.42 1186.69" stroke-dasharray="4 11"/>
<path d="M354.78 626.25 L355.69 631.91 L356.6 637.52 L357.51 643.08 L358.42 648.58 L359.34 654.03 L360.25 659.43 L361.16 664.78 L362.07 670.08 L362.98 675.32 L363.89 680.52 L364.81 685.67 L365.72 690.76 L366.63 695.81 L367.54 700.81 L368.45 705.77 L369.36 710.67 L370.27 715.53 L371.19 720.35 L372.1 725.11 L373.01 729.84 L373.92 734.51 L374.83 739.15 L375.74 743.73 L376.66 748.28 L377.57 752.78 L378.48 757.24 L379.39 761.66 L380.3 766.03 L381.21 770.36 L382.12 774.65 L383.04 778.9 L383.95 783.11 L384.86 787.28 L385.77 791.41 L386.68 795.5 L387.59 799.56 L388.51 803.57 L389.42 807.54 L390.33 811.48 L391.24 815.38 L392.15 819.24 L393.06 823.07 L393.97 826.86 L394.89 830.61 L395.8 834.33 L396.71 838.01 L397.62 841.66 L398.53 845.27 L399.44 848.85 L400.36 852.39 L401.27 855.9 L402.18 859.38 L403.09 862.82 L404 866.23 L404.91 869.61 L405.83 872.96 L406.74 876.27 L407.65 879.55 L408.56 882.81 L409.47 886.03 L410.38 889.22 L411.29 892.38 L412.21 895.5 L413.12 898.6 L414.03 901.67 L414.94 904.71 L415.85 907.73 L416.76 910.71 L417.68 913.66 L418.59 916.59 L419.5 919.49 L420.41 922.36 L421.32 925.2 L422.23 928.02 L423.14 930.81 L424.06 933.57 L424.97 936.31 L425.88 939.02 L426.79 941.71" stroke-dasharray="16 5.5 3.5 5.5"/>
<path d="M426.79 941.71 L427.71 944.38 L428.62 947.02 L429.53 949.63 L430.45 952.23 L431.36 954.79 L432.28 957.34 L433.19 959.85 L434.11 962.35 L435.02 964.82 L435.93 967.27 L436.85 969.69 L437.76 972.09 L438.68 974.47 L439.59 976.82 L440.51 979.15 L441.42 981.46 L442.33 983.75 L443.25 986.02 L444.16 988.26 L445.08 990.48 L445.99 992.69 L446.91 994.87 L447.82 997.03 L448.73 999.17 L449.65 1001.28 L450.56 1003.38 L451.48 1005.46 L452.39 1007.52 L453.31 1009.56 L454.22 1011.58 L455.13 1013.58 L456.05 1015.56 L456.96 1017.52 L457.88 1019.47 L458.79 1021.39 L459.71 1023.3 L460.62 1025.18 L461.53 1027.06 L462.45 1028.91 L463.36 1030.74 L464.28 1032.56 L465.19 1034.36 L466.11 1036.14 L467.02 1037.91 L467.93 1039.66 L468.85 1041.39 L469.76 1043.1 L470.68 1044.8 L471.59 1046.49 L472.51 1048.15 L473.42 1049.8 L474.33 1051.44 L475.25 1053.06 L476.16 1054.66 L477.08 1056.25 L477.99 1057.82 L478.91 1059.38 L479.82 1060.93 L480.73 1062.46 L481.65 1063.97 L482.56 1065.47 L483.48 1066.95 L484.39 1068.43 L485.31 1069.88 L486.22 1071.33 L487.13 1072.76 L488.05 1074.17 L488.96 1075.57 L489.88 1076.96 L490.79 1078.34 L491.71 1079.7 L492.62 1081.05 L493.53 1082.39 L494.45 1083.71 L495.36 1085.02 L496.28 1086.32 L497.19 1087.61 L498.11 1088.88 L499.02 1090.14 L499.93 1091.39 L500.85 1092.63 L501.76 1093.86 L502.68 1095.07 L503.59 1096.27 L504.51 1097.47 L505.42 1098.65 L506.33 1099.81 L507.25 1100.97 L508.16 1102.12 L509.08 1103.25 L509.99 1104.38 L510.91 1105.49 L511.82 1106.6 L512.73 1107.69 L513.65 1108.77 L514.56 1109.84 L515.48 1110.9 L516.39 1111.96 L517.31 1113 L518.22 1114.03 L519.14 1115.05 L520.05 1116.06"/>
<path d="M520.05 1116.06 L520.96 1117.06 L521.87 1118.05 L522.78 1119.03 L523.69 1120 L524.6 1120.96 L525.51 1121.91 L526.42 1122.85 L527.33 1123.78 L528.24 1124.71 L529.15 1125.62 L530.06 1126.53 L530.97 1127.43 L531.88 1128.32 L532.79 1129.2 L533.7 1130.07 L534.61 1130.94 L535.52 1131.79 L536.43 1132.64 L537.34 1133.48 L538.25 1134.31 L539.16 1135.14 L540.07 1135.96 L540.98 1136.76 L541.9 1137.57 L542.81 1138.36 L543.72 1139.14 L544.63 1139.92 L545.54 1140.69 L546.45 1141.46 L547.36 1142.21 L548.27 1142.96 L549.18 1143.7 L550.09 1144.44 L551 1145.17 L551.91 1145.89 L552.82 1146.6 L553.73 1147.31 L554.64 1148.01 L555.55 1148.71 L556.46 1149.39 L557.37 1150.07 L558.28 1150.75 L559.19 1151.42 L560.1 1152.08 L561.01 1152.73 L561.92 1153.38 L562.83 1154.03 L563.74 1154.66 L564.65 1155.29 L565.56 1155.92 L566.47 1156.54 L567.38 1157.15 L568.29 1157.76 L569.2 1158.36 L570.11 1158.95 L571.02 1159.54 L571.93 1160.13 L572.84 1160.71 L573.75 1161.28 L574.66 1161.85 L575.57 1162.41 L576.48 1162.97 L577.39 1163.52 L578.3 1164.07 L579.22 1164.61 L580.13 1165.14 L581.04 1165.67 L581.95 1166.2 L582.86 1166.72 L583.77 1167.24 L584.68 1167.75 L585.59 1168.26 L586.5 1168.76 L587.41 1169.25 L588.32 1169.75 L589.23 1170.23 L590.14 1170.72 L591.05 1171.19 L591.96 1171.67 L592.87 1172.14 L593.78 1172.6 L594.69 1173.06 L595.6 1173.52 L596.51 1173.97 L597.42 1174.42 L598.33 1174.86 L599.24 1175.3 L600.15 1175.73 L601.06 1176.16 L601.97 1176.59 L602.88 1177.01 L603.79 1177.43 L604.7 1177.84 L605.61 1178.25 L606.52 1178.66 L607.43 1179.06 L608.34 1179.46 L609.25 1179.86 L610.16 1180.25 L611.07 1180.64 L611.98 1181.02 L612.89 1181.4 L613.8 1181.78 L614.71 1182.15 L615.62 1182.52 L616.53 1182.89 L617.45 1183.25 L618.36 1183.61 L619.27 1183.96 L620.18 1184.31 L621.09 1184.66 L622 1185.01 L622.91 1185.35 L623.82 1185.69 L624.73 1186.03 L625.64 1186.36 L626.55 1186.69" stroke-dasharray="16 5.5 3.5 5.5"/>
</g>
<rect x="192" y="692" width="210" height="31" fill="#fff"/>
<g transform="translate(21.1 645)" fill="none" stroke="#000" stroke-linecap="round"><path d="M177.6 60.4C178.3 56.6 180.4 55.3 182.1 56.2C184.1 57.5 185.4 63.5 186.4 70.3" stroke-width="1.9"/><path d="M193.7 55.5L186.5 70.3" stroke-width="2.7"/><path d="M186.4 70.5C186.3 74 185.8 77.5 184.8 79.6" stroke-width="3.1"/></g>
<text x="222" y="718" class="tk">=</text>
<text x="247.5" y="718" class="tk">0.3</text>
<text x="301" y="718" class="tk">0.6</text>
<text x="355" y="718" class="tk">0.9</text>
<g clip-path="url(#c2)">
<polyline points="84.05,1066.82 150.09,1066.82 216.12,1067.59 303.42,1072.54 369.45,1078.87 435.49,1095.19" fill="none" stroke="#000000" stroke-width="2" stroke-linejoin="round"/>
<path d="M84.05 1060.11V1073.53M78.55 1060.11h11M78.55 1073.53h11M150.09 1060.72V1072.92M144.59 1060.72h11M144.59 1072.92h11M216.12 1063.01V1072.16M210.62 1063.01h11M210.62 1072.16h11M303.42 1067.97V1077.12M297.92 1067.97h11M297.92 1077.12h11M369.45 1073.53V1084.21M363.95 1073.53h11M363.95 1084.21h11M435.49 1084.97V1105.4M429.99 1084.97h11M429.99 1105.4h11" stroke="#000000" stroke-width="1.8" fill="none"/>
<rect x="78.55" y="1061.32" width="11" height="11" fill="#000000"/>
<rect x="144.59" y="1061.32" width="11" height="11" fill="#000000"/>
<rect x="210.62" y="1062.09" width="11" height="11" fill="#000000"/>
<rect x="297.92" y="1067.04" width="11" height="11" fill="#000000"/>
<rect x="363.95" y="1073.37" width="11" height="11" fill="#000000"/>
<rect x="429.99" y="1089.69" width="11" height="11" fill="#000000"/>
</g>
<g clip-path="url(#c2)">
<polyline points="124.75,985.24 190.79,987.52 256.83,988.82 344.12,997.28 410.16,1011.08 476.19,1092.9" fill="none" stroke="#ff8c00" stroke-width="2" stroke-linejoin="round"/>
<path d="M124.75 978.14V992.33M119.25 978.14h11M119.25 992.33h11M190.79 981.96V993.09M185.29 981.96h11M185.29 993.09h11M256.83 984.24V993.39M251.33 984.24h11M251.33 993.39h11M344.12 993.47V1001.1M338.62 993.47h11M338.62 1001.1h11M410.16 1006.51V1015.66M404.66 1006.51h11M404.66 1015.66h11M476.19 1070.03V1115.78M470.69 1070.03h11M470.69 1115.78h11" stroke="#ff8c00" stroke-width="1.8" fill="none"/>
<circle cx="124.75" cy="985.24" r="6.3" fill="#ff8c00"/>
<circle cx="190.79" cy="987.52" r="6.3" fill="#ff8c00"/>
<circle cx="256.83" cy="988.82" r="6.3" fill="#ff8c00"/>
<circle cx="344.12" cy="997.28" r="6.3" fill="#ff8c00"/>
<circle cx="410.16" cy="1011.08" r="6.3" fill="#ff8c00"/>
<circle cx="476.19" cy="1092.9" r="6.3" fill="#ff8c00"/>
</g>
<g clip-path="url(#c2)">
<polyline points="151.87,894.04 217.9,894.96 283.94,901.44 371.23,917.91 437.27,989.96 503.31,1142.46" fill="none" stroke="#0000f0" stroke-width="2" stroke-linejoin="round"/>
<path d="M151.87 884.89V903.19M146.37 884.89h11M146.37 903.19h11M217.9 885.04V904.87M212.4 885.04h11M212.4 904.87h11M283.94 892.29V910.59M278.44 892.29h11M278.44 910.59h11M371.23 909.52V926.29M365.73 909.52h11M365.73 926.29h11M437.27 936.59V1043.34M431.77 936.59h11M431.77 1043.34h11M503.31 1099V1185.92M497.81 1099h11M497.81 1185.92h11" stroke="#0000f0" stroke-width="1.8" fill="none"/>
<path d="M151.87 887.24l7 12h-14z" fill="#0000f0"/>
<path d="M217.9 888.16l7 12h-14z" fill="#0000f0"/>
<path d="M283.94 894.64l7 12h-14z" fill="#0000f0"/>
<path d="M371.23 911.11l7 12h-14z" fill="#0000f0"/>
<path d="M437.27 983.16l7 12h-14z" fill="#0000f0"/>
<path d="M503.31 1135.66l7 12h-14z" fill="#0000f0"/>
</g>
<g clip-path="url(#c2)">
<polyline points="173.13,828.31 239.16,826.03 305.2,833.65 392.49,861.86 458.53,1028.09 524.57,1172.96" fill="none" stroke="#f000ff" stroke-width="2" stroke-linejoin="round"/>
<path d="M173.13 811.77V844.86M167.63 811.77h11M167.63 844.86h11M239.16 812.53V839.52M233.66 812.53h11M233.66 839.52h11M305.2 824.5V842.8M299.7 824.5h11M299.7 842.8h11M392.49 852.71V871.01M386.99 852.71h11M386.99 871.01h11M458.53 983.86V1072.31M453.03 983.86h11M453.03 1072.31h11M524.57 1160.76V1185.16M519.07 1160.76h11M519.07 1185.16h11" stroke="#f000ff" stroke-width="1.8" fill="none"/>
<path d="M173.13 835.11l7 -12h-14z" fill="#f000ff"/>
<path d="M239.16 832.83l7 -12h-14z" fill="#f000ff"/>
<path d="M305.2 840.45l7 -12h-14z" fill="#f000ff"/>
<path d="M392.49 868.66l7 -12h-14z" fill="#f000ff"/>
<path d="M458.53 1034.89l7 -12h-14z" fill="#f000ff"/>
<path d="M524.57 1179.76l7 -12h-14z" fill="#f000ff"/>
</g>
<g clip-path="url(#c2)">
<polyline points="190.79,763.5 256.83,758.93 322.86,768.07 410.16,850.04 476.19,1089.85 542.23,1183.64" fill="none" stroke="#078c07" stroke-width="2" stroke-linejoin="round"/>
<path d="M190.79 747.11V779.89M185.29 747.11h11M185.29 779.89h11M256.83 752.44V765.41M251.33 752.44h11M251.33 765.41h11M322.86 760.45V775.7M317.36 760.45h11M317.36 775.7h11M410.16 825.64V874.44M404.66 825.64h11M404.66 874.44h11M476.19 1078.03V1101.67M470.69 1078.03h11M470.69 1101.67h11" stroke="#078c07" stroke-width="1.8" fill="none"/>
<path d="M190.79 756.7l6.8 6.8l-6.8 6.8l-6.8 -6.8z" fill="#078c07"/>
<path d="M256.83 752.13l6.8 6.8l-6.8 6.8l-6.8 -6.8z" fill="#078c07"/>
<path d="M322.86 761.27l6.8 6.8l-6.8 6.8l-6.8 -6.8z" fill="#078c07"/>
<path d="M410.16 843.24l6.8 6.8l-6.8 6.8l-6.8 -6.8z" fill="#078c07"/>
<path d="M476.19 1083.05l6.8 6.8l-6.8 6.8l-6.8 -6.8z" fill="#078c07"/>
<path d="M542.23 1176.84l6.8 6.8l-6.8 6.8l-6.8 -6.8z" fill="#078c07"/>
</g>
<rect x="454.3" y="984.5" width="12" height="12" fill="none" stroke="#dc1818" stroke-width="3"/>
<rect x="450.2" y="1068.3" width="12" height="12" fill="none" stroke="#dc1818" stroke-width="3"/>
<rect x="466.4" y="1110.7" width="12" height="12" fill="none" stroke="#dc1818" stroke-width="3"/>
<rect x="477.5" y="1157" width="12" height="12" fill="none" stroke="#dc1818" stroke-width="3"/>
<circle cx="430.5" cy="1019.9" r="7.1" fill="none" stroke="#0000e6" stroke-width="3"/>
<circle cx="473.3" cy="1095" r="7.1" fill="none" stroke="#0000e6" stroke-width="3"/>
<circle cx="489.9" cy="1145.5" r="7.1" fill="none" stroke="#0000e6" stroke-width="3"/>
<circle cx="518" cy="1170.4" r="7.1" fill="none" stroke="#0000e6" stroke-width="3"/>
<path d="M78.5 1144.75h10.5M736.6 1144.75h-10.5M78.5 1106.62h5.5M736.6 1106.62h-5.5M78.5 1068.5h10.5M736.6 1068.5h-10.5M78.5 1030.38h5.5M736.6 1030.38h-5.5M78.5 992.25h10.5M736.6 992.25h-10.5M78.5 954.12h5.5M736.6 954.12h-5.5M78.5 916h10.5M736.6 916h-10.5M78.5 877.88h5.5M736.6 877.88h-5.5M78.5 839.75h10.5M736.6 839.75h-10.5M78.5 801.62h5.5M736.6 801.62h-5.5M78.5 763.5h10.5M736.6 763.5h-10.5M78.5 725.38h5.5M736.6 725.38h-5.5M78.5 687.25h10.5M736.6 687.25h-10.5M144.54 1182.8v-5.5M144.54 649v5.5M183.16 1182.8v-5.5M183.16 649v5.5M210.57 1182.8v-5.5M210.57 649v5.5M231.83 1182.8v-5.5M231.83 649v5.5M249.2 1182.8v-5.5M249.2 649v5.5M263.89 1182.8v-5.5M263.89 649v5.5M276.61 1182.8v-5.5M276.61 649v5.5M287.83 1182.8v-5.5M287.83 649v5.5M297.87 1182.8v-10.5M297.87 649v10.5M363.9 1182.8v-5.5M363.9 649v5.5M402.53 1182.8v-5.5M402.53 649v5.5M429.94 1182.8v-5.5M429.94 649v5.5M451.2 1182.8v-5.5M451.2 649v5.5M468.57 1182.8v-5.5M468.57 649v5.5M483.25 1182.8v-5.5M483.25 649v5.5M495.97 1182.8v-5.5M495.97 649v5.5M507.2 1182.8v-5.5M507.2 649v5.5M517.23 1182.8v-10.5M517.23 649v10.5M583.27 1182.8v-5.5M583.27 649v5.5M621.9 1182.8v-5.5M621.9 649v5.5M649.31 1182.8v-5.5M649.31 649v5.5M670.56 1182.8v-5.5M670.56 649v5.5M687.93 1182.8v-5.5M687.93 649v5.5M702.62 1182.8v-5.5M702.62 649v5.5M715.34 1182.8v-5.5M715.34 649v5.5M726.56 1182.8v-5.5M726.56 649v5.5" stroke="#1a1a1a" stroke-width="2" fill="none"/>
<rect x="78.5" y="649" width="658.1" height="533.8" fill="none" stroke="#1a1a1a" stroke-width="2.1"/>
<path d="M61.83 1153.25 L59.35 1153.25 L59.35 1137.46 Q56.96 1139.43 54.38 1140.44 L54.38 1138.05 Q58.93 1136.33 60.22 1132.98 L61.83 1132.98 Z" fill="#000"/>
<text x="51.32" y="1077" class="tk">2</text>
<text x="51.32" y="1000.75" class="tk">3</text>
<text x="51.32" y="924.5" class="tk">4</text>
<text x="51.32" y="848.25" class="tk">5</text>
<text x="51.32" y="772" class="tk">6</text>
<text x="51.32" y="695.75" class="tk">7</text>
<text x="58.9" y="1216" class="tk">0</text>
<text x="74.58" y="1216" class="tk">.</text>
<path d="M92.93 1216 L90.45 1216 L90.45 1200.21 Q88.06 1202.18 85.48 1203.19 L85.48 1200.8 Q90.03 1199.08 91.31 1195.73 L92.93 1195.73 Z" fill="#000"/>
<path d="M300.53 1216 L298.06 1216 L298.06 1200.21 Q295.67 1202.18 293.08 1203.19 L293.08 1200.8 Q297.64 1199.08 298.92 1195.73 L300.53 1195.73 Z" fill="#000"/>
<path d="M512.06 1216 L509.58 1216 L509.58 1200.21 Q507.19 1202.18 504.61 1203.19 L504.61 1200.8 Q509.17 1199.08 510.45 1195.73 L512.06 1195.73 Z" fill="#000"/>
<text x="517.23" y="1216" class="tk">0</text>
<path d="M723.59 1216 L721.11 1216 L721.11 1200.21 Q718.72 1202.18 716.14 1203.19 L716.14 1200.8 Q720.7 1199.08 721.98 1195.73 L723.59 1195.73 Z" fill="#000"/>
<text x="728.76" y="1216" class="tk">0</text>
<text x="744.44" y="1216" class="tk">0</text>
<text x="407" y="1270" class="tt" style="font-size:33.5px" text-anchor="middle">Current Density (mA/cm<tspan dy="-12" dx="2.5" class="sup">2</tspan><tspan dy="12" dx="1">)</tspan></text>
<text transform="translate(31.8 916.5) rotate(-90)" class="tt" text-anchor="middle">Areal Capacity (mAh/cm<tspan dy="-16.5" dx="1" class="sup">2</tspan><tspan dy="16.5" dx="1">)</tspan></text>
</svg>
</body></html>
